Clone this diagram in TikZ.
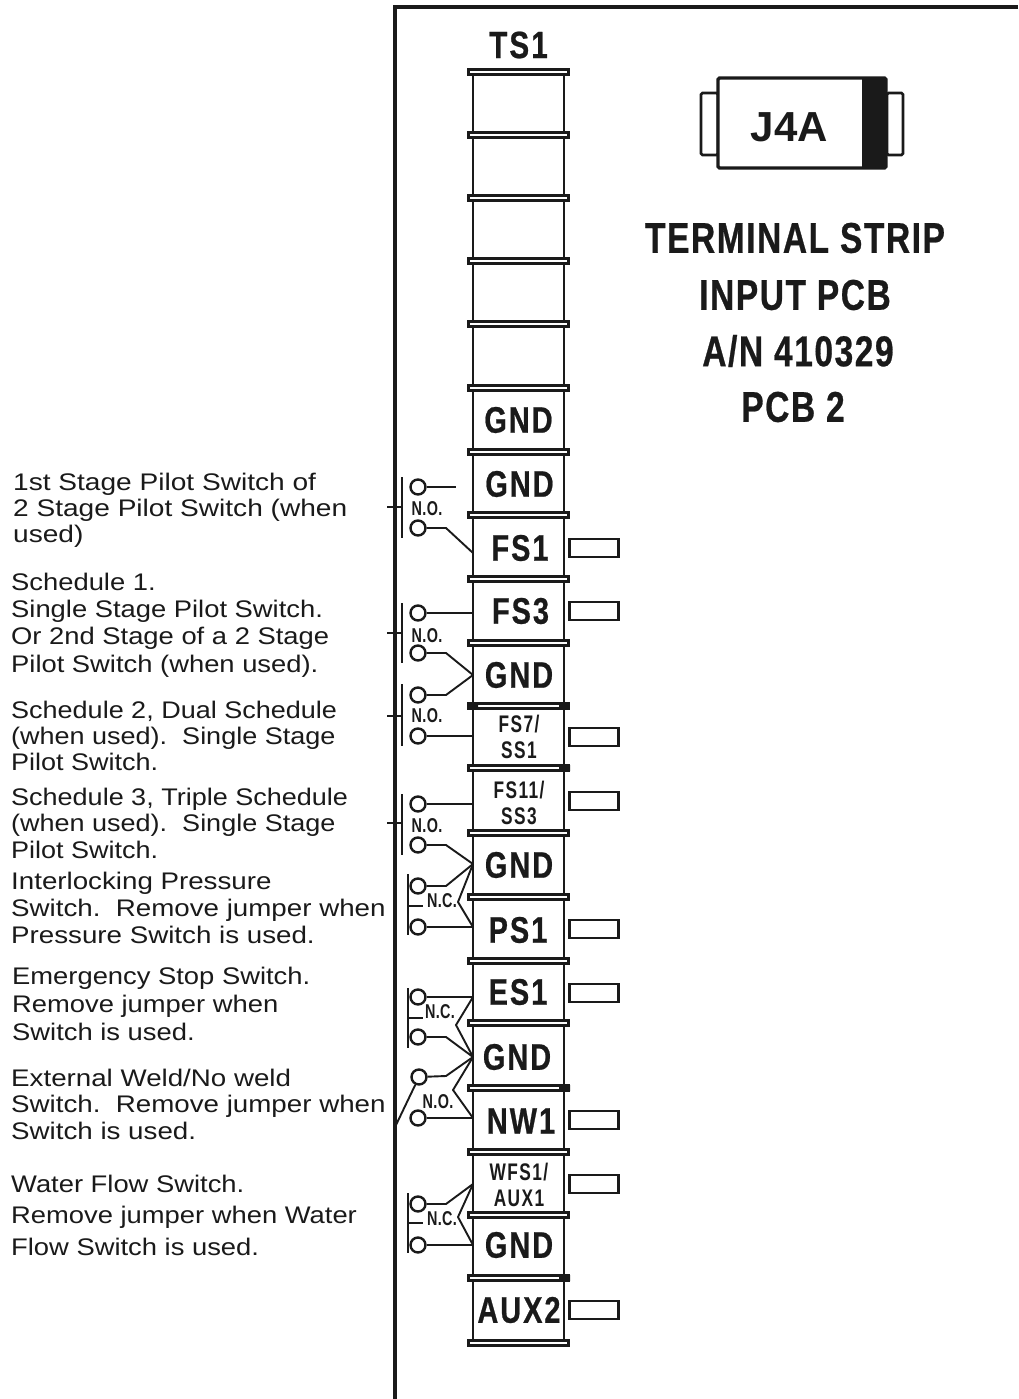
\documentclass[tikz,border=0pt]{standalone}
\usepackage{fontspec}
\usepackage{graphicx}
\setmainfont{Liberation Sans}
\newfontfamily\cond[FakeStretch=0.78,FakeBold=0.6,LetterSpace=5.5]{Liberation Sans Bold}
\newfontfamily\headf[FakeStretch=0.78,FakeBold=0.6,LetterSpace=3.6]{Liberation Sans Bold}
\newfontfamily\condsp[FakeStretch=0.72,LetterSpace=6]{Liberation Sans Bold}
\newfontfamily\nof[FakeStretch=0.72,LetterSpace=2]{Liberation Sans Bold}
\newfontfamily\wide[FakeStretch=1.14]{Liberation Sans}
\newfontfamily\widea[FakeStretch=1.17]{Liberation Sans}
\newfontfamily\wideb[FakeStretch=1.125]{Liberation Sans}
\newfontfamily\widec[FakeStretch=1.155]{Liberation Sans}
\definecolor{ink}{HTML}{1A1A1A}
\tikzset{
  x=1pt,y=-1pt,
  wire/.style={draw=ink,line width=1.9pt,line join=round},
  rail/.style={draw=ink,line width=2.6pt},
  frame/.style={draw=ink,line width=3.2pt,line cap=square},
  sepbar/.style={draw=ink,line width=2.1pt,fill=white,minimum width=100pt,minimum height=5pt,inner sep=0pt},
  tab/.style={draw=ink,line width=2.4pt,fill=white,minimum width=49pt,minimum height=18pt,inner sep=0pt},
  sw/.style={circle,draw=ink,line width=2.4pt,fill=white,minimum size=15pt,inner sep=0pt},
  big/.style={text=ink,inner sep=0pt,font=\cond\fontsize{37}{37}\selectfont},
  small/.style={text=ink,inner sep=0pt,align=center,font=\condsp\fontsize{24}{26}\selectfont},
  head/.style={text=ink,inner sep=0pt,font=\headf\fontsize{43}{43}\selectfont},
  nolab/.style={text=ink,inner sep=0pt,font=\nof\fontsize{20}{20}\selectfont},
  desc/.style={text=ink,inner sep=0pt,anchor=west,align=left},
}
\begin{document}
\begin{tikzpicture}
\useasboundingbox[fill=white] (0,0) rectangle (1018,1399);
% frame
\coordinate (fa) at (1018,7);
\coordinate (fb) at (395,7);
\coordinate (fc) at (395,1399);
\draw[frame] (fa) -- (fb) -- (fc);
% rails
\coordinate (rla) at (473,72); \coordinate (rlb) at (473,1343);
\coordinate (rra) at (564,72); \coordinate (rrb) at (564,1343);
\draw[rail] (rla) -- (rlb);
\draw[rail] (rra) -- (rrb);
% separators
\foreach \n/\y in {a/72,b/135,c/198,d/261,e/324,f/388,g/452,h/515,i/579,j/643,k/706,l/768,m/833,n/897,o/961,p/1023,q/1088,r/1152,s/1215,t/1278,u/1343}
  \node[sepbar] (sep\n) at (518.5,\y) {};
\fill[ink] (468,703) rectangle (478,709) (559,703) rectangle (569,709);
\fill[ink] (559,765) rectangle (570,771) (559,1085) rectangle (570,1091) (559,1275) rectangle (570,1281);
% cell labels
\node[text=ink,inner sep=0pt,font=\cond\fontsize{38}{38}\selectfont] (ts) at (518.5,45) {TS1};
\node[big] (l1) at (518.5,420) {GND};
\node[big] (l2) at (519.5,484) {GND};
\node[big] (l3) at (520,548) {FS1};
\node[big] (l4) at (520.5,611) {FS3};
\node[big] (l5) at (519,675) {GND};
\node[small] (l6) at (519,737) {FS7/\\SS1};
\node[small] (l7) at (519,803) {FS11/\\SS3};
\node[big] (l8) at (519,865) {GND};
\node[big] (l9) at (518,930) {PS1};
\node[big] (l10) at (518,992) {ES1};
\node[big] (l11) at (517,1057) {GND};
\node[big] (l12) at (521,1121) {NW1};
\node[small] (l13) at (519,1185) {WFS1/\\AUX1};
\node[big] (l14) at (519,1245) {GND};
\node[big] (l15) at (519,1310) {AUX2};
% side tabs
\foreach \n/\y in {a/548,b/611,c/737,d/801,e/929,f/993,g/1120,h/1184,i/1310}
  \node[tab] (tab\n) at (594,\y) {};
% connector J4A
\draw[draw=ink,line width=2.8pt,rounded corners=1.5pt,fill=white] (701,93) rectangle (718,155);
\draw[draw=ink,line width=2.8pt,rounded corners=1.5pt,fill=white] (887,93) rectangle (903,155);
\draw[draw=ink,line width=3.4pt,rounded corners=1.5pt,fill=white] (718,78) rectangle (886,168);
\fill[ink] (862,78) rectangle (886,168);
\node[text=ink,inner sep=0pt,font=\bfseries\fontsize{42}{42}\selectfont] (j4a) at (789.5,127) {J4A};
% headings
\node[head] (h1) at (795,238) {TERMINAL STRIP};
\node[head] (h2) at (795,295) {INPUT PCB};
\node[head] (h3) at (798,351) {A/N 410329};
\node[head] (h4) at (793,407) {PCB 2};
% junctions on the strip rail
\coordinate (ja) at (473,553);
\coordinate (jb) at (473,675);
\coordinate (jc) at (473,864);
\coordinate (jd) at (473,997);
\coordinate (je) at (473,1057);
\coordinate (jf) at (473,1184);
\coordinate (k1) at (473,613);
\coordinate (k2) at (473,736);
\coordinate (k3) at (473,804);
\coordinate (k4) at (473,927);
\coordinate (k5) at (473,1118);
\coordinate (k6) at (473,1245);
\coordinate (free) at (456,487);
% switch contacts
\foreach \n/\xx/\y in {a/418/487,b/418/528,c/418/613,d/418/653,e/418/695,f/418/736,g/418/804,h/418/845,i/418/886,j/418/927,k/418/997,l/418/1037,m/419/1077,n/418/1118,o/418/1204,p/418/1245}
  \node[sw] (c\n) at (\xx,\y) {};
% wires
\draw[wire] (ca) -- (free);
\draw[wire] (cb) -- (446,528) -- (ja);
\draw[wire] (cc) -- (k1);
\draw[wire] (cd) -- (446,653) -- (jb);
\draw[wire] (ce) -- (446,695) -- (jb);
\draw[wire] (cf) -- (k2);
\draw[wire] (cg) -- (k3);
\draw[wire] (ch) -- (446,845) -- (jc);
\draw[wire] (ci) -- (446,886) -- (jc);
\draw[wire] (cj) -- (k4);
\draw[wire] (jc) -- (458,902) -- (k4);
\draw[wire] (ck) -- (jd);
\draw[wire] (cl) -- (446,1037) -- (je);
\draw[wire] (jd) -- (456,1025) -- (je);
\draw[wire] (cm) -- (446,1076) -- (je);
\draw[wire] (cn) -- (k5);
\draw[wire] (je) -- (453,1090) -- (k5);
\draw[wire] (co) -- (446,1204) -- (jf);
\draw[wire] (cp) -- (k6);
\draw[wire] (jf) -- (458,1217) -- (k6);
% ganged bars
\foreach \n/\xx/\a/\b/\t/\tl in {a/402/477/538/507/387,b/402/603/663/633/387,c/402/684/746/716/387,d/402/794/855/823/387}{
  \coordinate (ba\n) at (\xx,\a); \coordinate (bb\n) at (\xx,\b);
  \coordinate (bt\n) at (\xx,\t); \coordinate (bl\n) at (\tl,\t);
  \draw[wire,line width=2.2pt] (ba\n) -- (bb\n);
  \draw[wire] (bt\n) -- (bl\n);
}
\foreach \n/\xx/\a/\b/\t/\tl in {e/408/874/935/906/423,f/408/988/1048/1018/423,g/408/1193/1253/1223/423}{
  \coordinate (ba\n) at (\xx,\a); \coordinate (bb\n) at (\xx,\b);
  \coordinate (bt\n) at (\xx,\t); \coordinate (bl\n) at (\tl,\t);
  \draw[wire,line width=2.2pt] (ba\n) -- (bb\n);
  \draw[wire] (bt\n) -- (bl\n);
}
\coordinate (blade) at (396,1125);
\draw[wire] (blade) -- (cm);
% switch labels
\node[nolab] (n1) at (427,509) {N.O.};
\node[nolab] (n2) at (427,636) {N.O.};
\node[nolab] (n3) at (427,716) {N.O.};
\node[nolab] (n4) at (427,826) {N.O.};
\node[nolab] (n5) at (442,901) {N.C.};
\node[nolab] (n6) at (440,1012) {N.C.};
\node[nolab] (n7) at (438,1102) {N.O.};
\node[nolab] (n8) at (442,1219) {N.C.};
% descriptions
\node[desc,font=\widea\fontsize{24}{26}\selectfont] (t1) at (13,510) {1st Stage Pilot Switch of\\2 Stage Pilot Switch (when\\used)};
\node[desc,font=\wide\fontsize{24}{27.3}\selectfont] (t2) at (11,625) {Schedule 1.\\Single Stage Pilot Switch.\\Or 2nd Stage of a 2 Stage\\Pilot Switch (when used).};
\node[desc,font=\wideb\fontsize{24}{26}\selectfont] (t3) at (11,736) {Schedule 2, Dual Schedule\\(when used).\ \ Single Stage\\Pilot Switch.};
\node[desc,font=\wideb\fontsize{24}{26.5}\selectfont] (t4) at (11,823) {Schedule 3, Triple Schedule\\(when used).\ \ Single Stage\\Pilot Switch.};
\node[desc,font=\widec\fontsize{24}{27}\selectfont] (t5) at (11,908) {Interlocking Pressure\\Switch.\ \ Remove jumper when\\Pressure Switch is used.};
\node[desc,font=\wide\fontsize{24}{28}\selectfont] (t6) at (12,1004) {Emergency Stop Switch.\\Remove jumper when\\Switch is used.};
\node[desc,font=\widec\fontsize{24}{26.5}\selectfont] (t7) at (11,1104) {External Weld/No weld\\Switch.\ \ Remove jumper when\\Switch is used.};
\node[desc,font=\wide\fontsize{24}{31.5}\selectfont] (t8) at (11,1215) {Water Flow Switch.\\Remove jumper when Water\\Flow Switch is used.};
\end{tikzpicture}
\end{document}
